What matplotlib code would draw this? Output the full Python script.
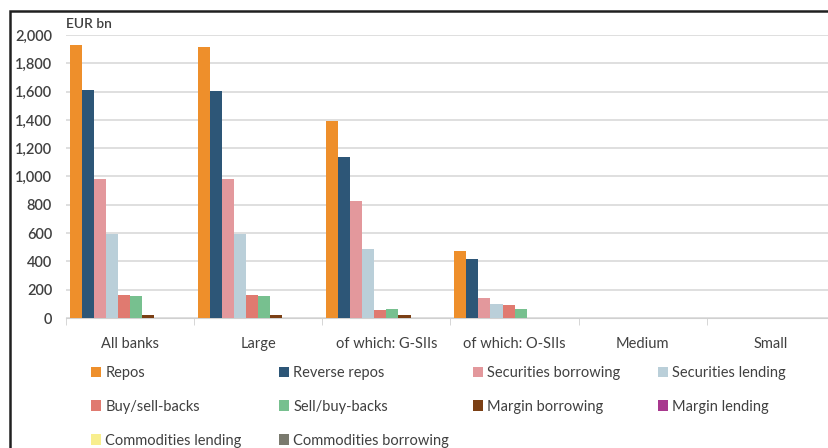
import numpy as np
import matplotlib.pyplot as plt
from matplotlib.patches import Rectangle

categories = ["All banks", "Large", "of which: G-SIIs", "of which: O-SIIs", "Medium", "Small"]
series = ["Repos", "Reverse repos", "Securities borrowing", "Securities lending",
          "Buy/sell-backs", "Sell/buy-backs", "Margin borrowing", "Margin lending",
          "Commodities lending", "Commodities borrowing"]
repos = [1932, 1912, 1390, 470, 0, 0]
reverse_repos = [1610, 1604, 1138, 415, 0, 0]
sec_borrowing = [985, 985, 825, 142, 0, 0]
sec_lending = [595, 597, 485, 100, 0, 0]
buy_sell_backs = [160, 160, 58, 90, 0, 0]
sell_buy_backs = [155, 155, 65, 62, 0, 0]
margin_borrowing = [18, 18, 18, 2, 0, 0]
margin_lending = [0, 0, 0, 0, 0, 0]
commod_lending = [0, 0, 0, 0, 0, 0]
commod_borrowing = [0, 0, 0, 0, 0, 0]
values = [repos, reverse_repos, sec_borrowing, sec_lending, buy_sell_backs,
          sell_buy_backs, margin_borrowing, margin_lending, commod_lending, commod_borrowing]
colors = ["#EE8F2B", "#2D5677", "#E3989C", "#BACFD9", "#E07A70",
          "#77C08F", "#7B3F14", "#A8388E", "#F8EE8E", "#7A7A6E"]

plt.rcParams['font.family'] = ['Lato', 'DejaVu Sans']
txt = "#404040"

fig = plt.figure(figsize=(8.29, 4.48), dpi=100)
ax = fig.add_axes([66 / 829, 130 / 448, 769 / 829, 283 / 448])

x = np.arange(len(categories))
w = 0.094
bars = []
for i, (name, vals) in enumerate(zip(series, values)):
    bars.append(ax.bar(x + (i - 4.5) * w, vals, w, color=colors[i], label=name, zorder=3))

ax.set_xlim(-0.5, len(categories) - 0.5)
ax.set_ylim(0, 2000)
ax.set_yticks(range(0, 2001, 200))
ax.set_yticklabels([f"{v:,}" for v in range(0, 2001, 200)])
ax.yaxis.grid(True, color="#D9D9D9", linewidth=1.2, zorder=0)
ax.set_xticks(x)
ax.set_xticklabels(categories)
ax.set_xticks(np.arange(-0.5, len(categories), 1), minor=True)
ax.tick_params(axis="x", which="major", length=0, pad=14, labelsize=10.5, colors=txt)
ax.tick_params(axis="x", which="minor", length=5, color="#D0D0D0")
ax.tick_params(axis="y", length=0, pad=10, labelsize=10.5, colors=txt)
for lab in ax.get_yticklabels():
    lab.set_fontweight("semibold")
for s in ["left", "right", "top"]:
    ax.spines[s].set_visible(False)
ax.spines["bottom"].set_color("#D0D0D0")
ax.text(0, 1.025, "EUR bn", transform=ax.transAxes, fontsize=10, color=txt, fontweight="semibold")

# legend laid out in rows of four, one legend per column
col_x = [85, 273, 467, 652]
for c in range(4):
    idx = list(range(c, len(series), 4))
    fig.legend([bars[i] for i in idx], [series[i] for i in idx],
               loc="upper left", bbox_to_anchor=(col_x[c] / 829, 1 - 360 / 448),
               frameon=False, fontsize=10.5, handlelength=0.7, handleheight=0.7,
               handletextpad=0.3, labelspacing=1.36, labelcolor=txt,
               borderaxespad=0)

fig.patches.append(Rectangle((10 / 829, -0.05), 1.1, 1 - 11.5 / 448 + 0.05,
                             transform=fig.transFigure, fill=False,
                             edgecolor="#202020", linewidth=1.8))

fig.savefig("out.png", dpi=100)
